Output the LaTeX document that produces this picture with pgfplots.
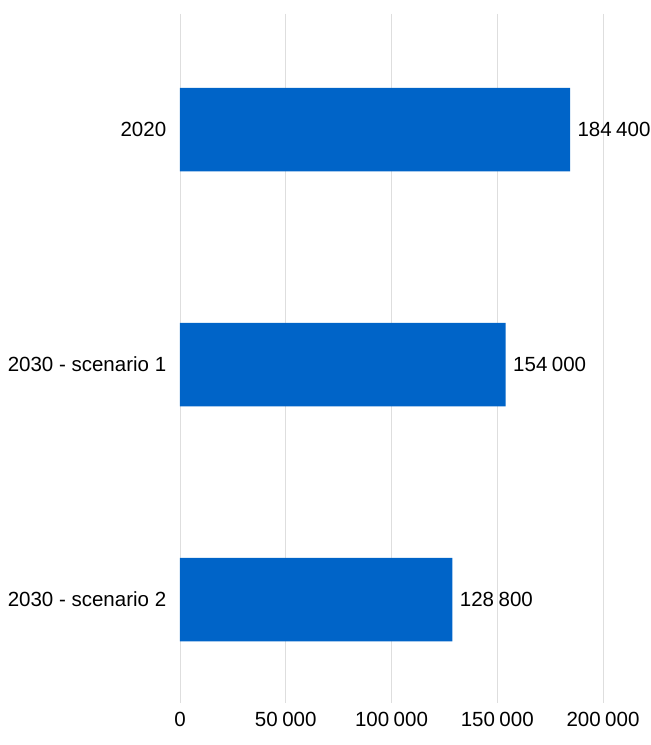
\documentclass[border=0pt]{standalone}
\usepackage{pgfplots}
\pgfplotsset{compat=1.18}
\usepackage{fontspec}
\setmainfont{Liberation Sans}
\definecolor{barblue}{HTML}{0064C8}
\definecolor{gridgray}{HTML}{DEDEDE}
\begin{document}
\begin{tikzpicture}
\useasboundingbox (0,0) rectangle (651pt,745pt);
\begin{axis}[
  at={(180pt,42pt)}, anchor=south west,
  scale only axis, width=423pt, height=689.5pt,
  xbar, bar width=0.355,
  xmin=0, xmax=200000,
  ymin=-0.494, ymax=2.44, y dir=reverse,
  ytick={0,1,2},
  yticklabels={2020,2030 - scenario 1,2030 - scenario 2},
  xtick={0,50000,100000,150000,200000},
  scaled x ticks=false,
  xmajorgrids, grid style={gridgray, line width=0.8pt},
  axis line style={draw=none},
  major tick style={draw=none},
  tick label style={font=\fontsize{20.5}{23}\selectfont},
  /pgf/number format/assume math mode=true,
  /pgf/number format/.cd, fixed, precision=0, 1000 sep={\hspace{0.22em}},
  /pgfplots/.cd,
  xticklabel style={yshift=-6pt},
  yticklabel style={xshift=-6pt},
  nodes near coords,
  nodes near coords style={font=\fontsize{20.5}{23}\selectfont, black, anchor=west, xshift=4pt,
    /pgf/number format/.cd, fixed, precision=0, 1000 sep={\hspace{0.22em}}},
]
\addplot[fill=barblue, draw=none] coordinates {(184400,0) (154000,1) (128800,2)};
\end{axis}
\end{tikzpicture}
\end{document}
